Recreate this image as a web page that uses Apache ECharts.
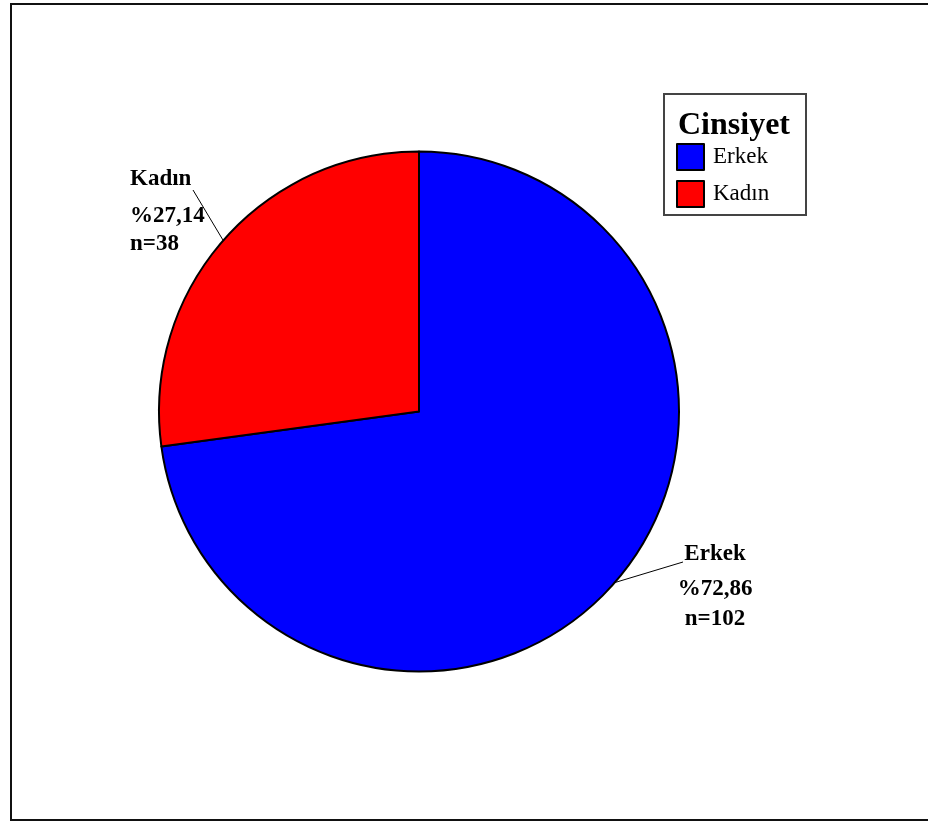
<!DOCTYPE html>
<html>
<head>
<meta charset="utf-8">
<script src="https://cdn.jsdelivr.net/npm/echarts@6/dist/echarts.min.js"></script>
<style>
  html, body { margin: 0; padding: 0; background: #fff; }
  #chart { width: 928px; height: 822px; }
</style>
</head>
<body>
<div id="chart"></div>
<script>
// Gender breakdown
const categories = ['Erkek', 'Kadın'];
const counts = [102, 38];
const colors = ['#0000ff', '#ff0000'];
const legendTitle = 'Cinsiyet';

const total = counts.reduce((a, b) => a + b, 0);
const pct = v => (v / total * 100).toFixed(2).replace('.', ',');

const FONT = '"Liberation Serif", "Times New Roman", serif';

// Label block per slice: position, line spacing and the outer end of its leader line
const labelPlacement = {
  'Kadın': { x: 130, y: 156, align: 'left', nameLH: 46, valLH: 28, lineEnd: [193, 190] },
  'Erkek': { x: 715, y: 534, align: 'center', nameLH: 40, valLH: 30, lineEnd: [683, 562] }
};

const labelRich = pl => ({
  n: { fontFamily: FONT, fontWeight: 'bold', fontSize: 23, lineHeight: pl.nameLH, color: '#000' },
  v: { fontFamily: FONT, fontWeight: 'bold', fontSize: 23, lineHeight: pl.valLH, color: '#000' }
});

const chart = echarts.init(document.getElementById('chart'), null, { renderer: 'canvas' });

chart.setOption({
  backgroundColor: '#ffffff',
  animation: false,
  graphic: [
    // outer frame
    { type: 'rect', shape: { x: 11, y: 4, width: 925, height: 816 },
      style: { fill: 'none', stroke: '#111', lineWidth: 2 }, z: 0 },
    // legend box
    { type: 'rect', shape: { x: 664, y: 94, width: 142, height: 121 },
      style: { fill: '#fff', stroke: '#444', lineWidth: 2 }, z: 0 },
    { type: 'text', left: 678, top: 110,
      style: { text: legendTitle, font: 'bold 32px ' + FONT, fill: '#000' }, z: 10 }
  ],
  legend: {
    orient: 'vertical',
    left: 676,
    top: 143,
    padding: 0,
    itemWidth: 27,
    itemHeight: 26,
    itemGap: 9,
    icon: 'rect',
    selectedMode: false,
    data: categories,
    itemStyle: { borderColor: '#000', borderWidth: 2 },
    textStyle: { fontFamily: FONT, fontSize: 23, color: '#000', padding: [7, 0, 0, 4] }
  },
  series: [{
    type: 'pie',
    center: [419, 411.5],
    radius: [0, 260],
    startAngle: 90,
    clockwise: true,
    avoidLabelOverlap: false,
    itemStyle: { borderColor: '#000', borderWidth: 2 },
    emphasis: { disabled: true },
    data: categories.map((name, i) => ({
      name, value: counts[i],
      itemStyle: { color: colors[i] },
      label: { rich: labelRich(labelPlacement[name]) }
    })),
    label: {
      show: true,
      position: 'outside',
      formatter: p => `{n|${p.name}}\n{v|%${pct(p.value)}}\n{v|n=${p.value}}`
    },
    labelLine: { show: true, lineStyle: { color: '#000', width: 1 } },
    labelLayout: params => {
      const name = categories[params.dataIndex];
      const pl = labelPlacement[name];
      const start = params.labelLinePoints ? params.labelLinePoints[0] : pl.lineEnd;
      return {
        x: pl.x, y: pl.y, align: pl.align, verticalAlign: 'top',
        labelLinePoints: [start, pl.lineEnd, pl.lineEnd]
      };
    }
  }]
});
</script>
</body>
</html>
